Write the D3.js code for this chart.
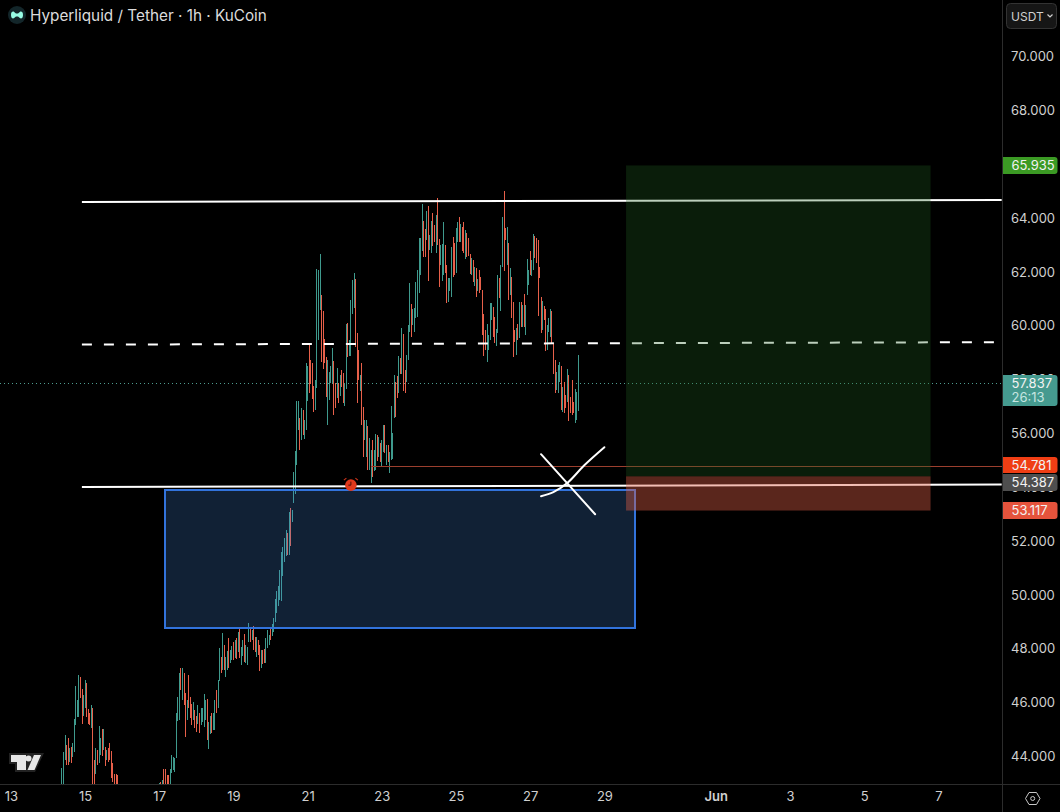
<!DOCTYPE html>
<html>
<head>
<meta charset="utf-8">
<title>Hyperliquid / Tether</title>
<script src="https://cdn.jsdelivr.net/npm/d3@7/dist/d3.min.js"></script>
<style>
  html, body { margin: 0; padding: 0; background: #000; overflow: hidden; }
  svg { display: block; font-family: Inter, "Liberation Sans", sans-serif; }
</style>
</head>
<body>
<svg id="chart" width="1060" height="812"></svg>
<script>
// Hourly candles, one list per calendar day: [high, low, open, close]
const may14 = [[43.55,42.73,42.8,43.3],[44.15,42.9,43.5,44.1],[44.78,43.85,44.0,44.5],[44.4,43.65,44.3,43.9],[44.66,43.65,44.4,43.7],[44.3,43.77,43.9,44.2],[44.33,43.73,44.25,43.8],[44.5,43.96,44.0,44.4],[45.37,44.15,44.4,45.1],[46.6,45.15,45.2,46.5],[46.08,45.45,45.6,46.0],[47.0,45.45,45.7,46.9],[46.93,46.15,46.9,46.2],[46.5,45.2,46.3,45.45],[46.25,45.5,45.55,46.1]];
const may15 = [[46.82,45.8,46.1,46.7],[46.7,45.45,46.6,45.65],[45.75,45.2,45.7,45.3],[45.6,45.15,45.5,45.2],[45.9,45.05,45.2,45.8],[45.78,42.7,45.7,43.2],[43.85,42.7,43.6,42.9],[44.3,43.35,43.5,44.2],[44.22,43.65,44.15,43.75],[45.1,43.75,43.8,44.7],[44.66,44.03,44.1,44.6],[45.0,44.0,44.9,44.2],[45.0,44.22,44.3,44.9],[44.33,43.62,44.3,43.7],[44.22,43.85,43.9,44.15],[44.3,43.77,44.25,43.9],[44.5,43.85,44.4,44.0],[44.18,43.2,44.1,43.4],[43.73,43.05,43.6,43.2],[43.35,42.95,43.3,43.0],[43.35,42.7,43.2,42.8],[43.3,42.7,43.1,42.8]];
const may17 = [[43.0,42.5,42.6,42.9],[43.05,42.6,42.95,42.7],[43.1,42.7,42.75,43.0],[43.51,42.8,43.5,43.0],[43.5,42.7,43.4,42.8],[43.3,42.7,43.2,42.8],[43.3,42.9,43.25,42.95],[43.5,42.9,43.0,43.4],[44.03,43.37,43.4,43.95],[43.96,43.48,43.6,43.9],[43.92,43.4,43.5,43.85],[45.59,43.92,44.0,45.1],[46.2,45.3,45.4,46.1],[47.1,45.33,45.4,46.95],[47.27,46.45,47.2,46.6],[47.27,46.08,46.2,47.1],[47.08,45.9,47.0,46.0],[46.34,44.7,46.2,45.3],[46.08,45.33,45.4,46.0],[47.0,45.78,46.9,45.9],[46.2,45.4,46.1,45.5],[45.95,45.15,45.9,45.3],[46.0,45.33,45.4,45.9],[45.7,45.03,45.65,45.15]];
const may18 = [[45.5,44.9,45.45,45.0],[45.9,45.2,45.3,45.8],[45.6,44.85,45.5,45.0],[45.8,45.15,45.2,45.7],[45.8,45.25,45.4,45.75],[46.3,45.07,45.3,46.2],[46.08,45.33,45.5,46.0],[46.1,44.6,46.0,45.0],[45.26,44.25,44.5,45.2],[45.5,44.8,44.9,45.4],[45.6,44.85,45.5,45.0],[45.6,44.95,45.05,45.5],[46.08,44.95,45.3,46.0],[46.45,45.6,46.4,46.0],[46.82,45.78,45.95,46.75],[48.0,46.8,47.0,47.85],[47.67,47.08,47.6,47.2],[48.56,47.19,47.3,48.4],[48.12,47.19,48.1,47.3],[47.67,46.93,47.2,47.6],[47.9,47.2,47.3,47.8],[48.38,47.27,48.3,47.4],[47.93,47.45,47.5,47.85],[48.1,47.56,47.6,48.0]];
const may19 = [[48.23,47.56,48.1,47.7],[48.3,47.63,47.7,48.25],[48.38,47.6,48.3,47.7],[48.6,47.86,47.9,48.5],[48.75,47.63,48.7,47.75],[48.05,47.37,47.5,48.0],[48.3,47.7,47.8,48.25],[48.53,47.48,48.5,47.6],[48.12,47.45,47.55,48.05],[48.05,47.37,47.9,48.1],[48.94,48.23,48.3,48.85],[48.75,48.23,48.7,48.3],[48.68,48.3,48.35,48.6],[48.83,47.93,48.8,48.0],[48.42,47.86,48.4,47.95],[48.42,47.67,47.8,48.35],[48.3,47.75,48.25,47.85],[48.12,47.15,48.1,47.4],[47.93,47.27,47.4,47.85],[47.95,47.4,47.9,47.5],[47.97,47.45,47.9,47.55],[48.38,47.45,47.6,48.3],[48.68,48.0,48.1,48.6],[48.5,48.12,48.15,48.45]];
const may20 = [[48.75,48.3,48.7,48.35],[48.9,48.45,48.5,48.85],[49.12,48.6,48.7,49.05],[49.83,48.97,49.05,49.75],[50.12,49.3,49.5,50.0],[50.3,49.57,49.7,50.25],[50.9,49.79,49.85,50.8],[51.57,49.75,49.9,51.4],[51.76,50.68,50.8,51.7],[52.1,51.2,51.35,52.0],[52.4,51.42,51.5,52.3],[52.28,51.46,52.2,51.55],[53.06,51.46,51.6,52.9],[53.2,51.8,53.1,51.95],[53.13,52.7,52.75,53.05],[54.55,53.4,53.45,54.45],[55.33,53.73,53.8,55.2],[57.2,54.8,56.1,56.8],[57.2,56.1,56.5,57.1],[56.55,55.36,56.4,55.8],[56.92,55.74,55.9,56.8],[56.85,55.92,56.8,56.1],[56.48,55.77,55.9,56.4],[58.6,56.11,56.3,57.2]];
const may21 = [[58.5,57.2,57.3,58.4],[59.26,57.48,58.7,57.6],[58.7,57.8,58.6,57.9],[58.6,57.26,58.5,57.4],[57.74,56.77,57.7,56.9],[57.96,56.85,57.0,57.85],[62.08,57.67,58.9,59.8],[62.05,59.45,59.5,61.9],[62.65,60.55,60.6,61.9],[61.12,58.63,61.0,59.0],[60.53,58.37,59.8,58.5],[59.49,58.6,59.4,58.7],[58.82,57.33,58.7,57.5],[58.7,56.3,56.9,57.4],[58.26,57.22,57.3,57.9],[58.5,57.85,57.95,58.4],[59.15,57.85,58.0,58.9],[58.67,56.67,58.5,57.0],[57.85,56.92,57.8,57.1],[58.4,57.3,57.4,58.2],[57.85,57.1,57.7,57.2],[58.15,57.37,57.45,58.05],[58.34,57.7,58.3,57.8],[58.22,57.1,58.1,57.4]];
const may22 = [[57.85,57.0,57.2,57.7],[60.04,57.63,57.8,59.6],[60.08,58.82,60.0,59.0],[59.45,58.85,58.9,59.4],[60.94,58.85,59.0,60.7],[61.68,60.42,60.5,61.5],[61.94,60.64,60.8,61.8],[61.72,59.2,61.6,59.5],[59.7,57.1,58.3,57.85],[59.08,57.96,59.0,58.0],[58.15,57.55,57.6,58.1],[58.6,56.3,58.5,57.0],[56.96,55.1,56.9,55.3],[56.48,55.74,55.8,56.4],[56.48,55.1,55.2,56.3],[56.25,54.62,56.2,54.9],[55.8,54.62,54.7,55.7],[55.36,54.14,54.3,55.2],[55.74,54.36,55.6,54.5],[55.36,54.58,54.7,55.3],[55.95,54.62,54.75,55.6],[55.92,54.95,55.8,55.1],[55.85,55.1,55.2,55.8],[55.62,54.92,55.55,55.0]];
const may23 = [[55.74,54.73,54.8,55.6],[56.3,55.3,55.4,56.2],[56.3,55.25,56.2,55.4],[55.55,54.8,54.9,55.45],[55.55,54.92,55.5,55.0],[55.3,54.5,54.6,55.2],[57.0,55.0,55.1,56.6],[56.0,55.05,55.3,55.9],[58.15,56.55,56.7,57.9],[57.9,56.6,57.8,56.8],[58.1,57.3,58.0,57.4],[58.85,57.48,57.6,58.5],[58.78,58.19,58.7,58.25],[59.9,58.19,58.3,59.8],[59.67,57.55,59.6,58.0],[58.34,57.48,58.2,57.6],[58.9,57.9,58.0,58.8],[60.0,58.7,58.8,59.9],[61.57,59.75,60.0,61.3],[60.8,59.56,60.7,59.8],[60.6,60.0,60.05,60.55],[60.64,59.75,59.9,60.6],[61.6,60.27,60.3,61.5],[62.05,60.3,60.4,61.95]];
const may24 = [[63.24,61.2,61.4,62.5],[63.24,61.86,62.0,63.1],[64.5,62.76,62.9,64.0],[63.87,62.53,63.8,62.9],[63.57,62.53,63.5,62.7],[64.24,63.16,63.3,64.1],[64.43,61.64,63.65,62.8],[63.35,62.8,62.85,63.3],[63.87,62.68,62.8,63.7],[64.17,62.94,64.1,63.2],[63.72,63.09,63.7,63.2],[64.09,62.68,62.9,64.0],[64.72,62.98,64.0,63.1],[63.2,61.42,63.1,62.0],[62.98,62.22,62.3,62.9],[63.02,61.64,61.9,62.9],[63.83,61.86,62.1,63.0],[62.98,61.94,62.9,62.1],[62.24,60.82,62.1,61.4],[61.75,60.86,61.0,61.7],[61.75,61.27,61.3,61.7],[62.9,61.05,61.3,62.6],[63.28,61.79,63.1,62.0],[63.05,61.86,63.0,62.1]];
const may25 = [[63.6,61.94,62.1,63.4],[63.83,63.09,63.2,63.7],[64.02,63.09,63.9,63.2],[63.76,63.09,63.2,63.7],[63.65,62.76,63.6,62.9],[63.83,62.68,63.7,62.9],[63.54,62.46,62.8,63.4],[63.42,62.53,63.35,62.6],[63.24,62.57,63.1,62.65],[62.64,61.9,62.6,62.0],[62.5,61.86,61.95,62.4],[62.42,61.6,62.35,61.75],[62.16,61.45,61.6,62.1],[62.12,61.05,62.05,61.2],[61.72,61.27,61.35,61.65],[62.05,61.2,62.0,61.3],[61.8,61.3,61.75,61.35],[61.3,59.63,61.2,60.0],[60.4,58.85,60.3,59.4],[59.82,59.08,59.8,59.2],[60.04,58.63,58.8,59.9],[59.63,59.08,59.15,59.6],[60.82,59.45,59.6,60.7],[60.82,60.19,60.25,60.75]];
const may26 = [[60.67,59.56,60.6,59.7],[60.3,59.34,60.2,59.5],[59.86,59.23,59.3,59.8],[61.86,59.7,60.0,61.7],[61.75,61.0,61.7,61.1],[62.24,60.53,60.9,62.1],[64.02,62.16,62.2,63.0],[65.0,62.0,64.0,63.2],[63.6,63.16,63.55,63.2],[63.65,62.24,62.5,63.5],[63.05,60.94,63.0,61.5],[62.12,61.12,61.3,62.0],[61.8,60.27,61.2,60.4],[60.86,58.82,60.8,59.3],[59.82,59.38,59.8,59.4],[59.9,58.9,59.1,59.8],[60.04,59.45,60.0,59.5],[60.86,59.53,59.7,60.7],[60.86,59.93,60.8,60.0],[60.75,59.93,60.0,60.7],[61.16,59.93,61.1,60.0],[60.75,59.63,59.9,60.6],[62.46,61.12,61.2,62.3],[62.05,61.49,61.5,62.0]];
const may27 = [[62.76,61.86,62.7,62.0],[62.42,61.83,61.9,62.35],[63.39,62.05,62.1,63.3],[63.31,62.5,63.25,62.6],[63.24,62.3,63.2,62.4],[63.16,60.34,63.1,61.0],[62.16,61.75,62.1,61.8],[61.05,59.71,61.0,60.0],[60.9,59.82,60.0,60.85],[60.7,60.19,60.65,60.25],[60.6,59.04,60.5,59.3],[60.0,59.08,59.3,59.9],[60.27,59.75,59.8,60.2],[60.6,59.56,59.7,60.5],[60.53,59.34,60.0,59.35],[59.34,58.19,59.3,59.2],[58.71,57.48,58.6,57.9],[58.26,57.6,57.7,58.2],[58.52,57.48,57.6,58.4],[58.63,57.9,58.0,58.55],[58.48,56.85,58.4,57.2],[57.7,56.77,57.0,57.6],[57.88,56.73,57.8,57.0],[57.4,56.92,57.35,57.0]];
const may28 = [[58.37,57.14,57.25,58.0],[58.15,56.44,58.0,56.9],[57.33,56.73,57.25,56.85],[57.96,56.66,57.9,56.9],[57.15,56.75,57.1,56.8],[57.63,56.37,56.6,57.4],[57.52,56.48,56.6,57.45],[58.9,56.8,57.2,57.837]];

// Which date and hour each list begins at
const dayLists = [[14, 9, may14], [15, 0, may15], [17, 0, may17], [18, 0, may18], [19, 0, may19], [20, 0, may20], [21, 0, may21], [22, 0, may22], [23, 0, may23], [24, 0, may24], [25, 0, may25], [26, 0, may26], [27, 0, may27], [28, 0, may28]];

// Axis labels
const priceTicks = [44, 46, 48, 50, 52, 54, 56, 58, 60, 62, 64, 66, 68, 70];
const dateTicks = [[13, "13"], [15, "15"], [17, "17"], [19, "19"], [21, "21"], [23, "23"], [25, "25"], [27, "27"], [29, "29"], [32, "Jun"], [34, "3"], [36, "5"], [38, "7"]];

// Drawn levels, as [day of May, hour, price]
const resistanceLine = [[14, 22, 64.58], [39, 17, 64.65]];
const midLine = [[14, 22, 59.28], [39, 12, 59.37]];
const supportLine = [[14, 22, 53.99], [39, 17, 54.08]];
const crossStroke = [[27, 7, 55.21], [28, 18, 52.98]];
const crossCurve = [[27, 7, 53.65], [27, 15, 53.8], [27, 24, 54.14], [28, 11, 54.8], [28, 24, 55.47]];

// Price levels
const lastPrice = 57.837;
const alertPrice = 54.781;
const entryPrice = 54.387;
const targetPrice = 65.935;
const stopPrice = 53.117;
const zoneTop = 53.89;
const zoneBottom = 48.75;
const alarmPrice = 54.06;

const utc = (day, hour) => new Date(Date.UTC(2025, 4, day, hour));
const candles = dayLists.flatMap(([day, hour, rows]) =>
  rows.map((r, i) => ({ t: utc(day, hour + i), high: r[0], low: r[1], open: r[2], close: r[3] })));

const x = d3.scaleUtc().domain([utc(15, 0), utc(38, 0)]).range([85, 938.3]);
const y = d3.scaleLinear().domain([44, 70]).range([756, 56]);
const paneRight = 1002, paneBottom = 784;
const teal = "#3f9a8d", red = "#e8604a";

const svg = d3.select("#chart");
svg.append("defs").append("clipPath").attr("id", "pane")
  .append("rect").attr("width", paneRight).attr("height", paneBottom);
const pane = svg.append("g").attr("clip-path", "url(#pane)");

// Last-price guide runs behind the candles
pane.append("line")
  .attr("x1", 0).attr("x2", paneRight)
  .attr("y1", Math.round(y(lastPrice)) + 0.5).attr("y2", Math.round(y(lastPrice)) + 0.5)
  .attr("stroke", "#4f9c90").attr("stroke-dasharray", "1 3");

// Candles are a single pixel column wide at this zoom
const candleG = pane.append("g").attr("shape-rendering", "crispEdges");
candleG.selectAll("rect.wick").data(candles).join("rect").attr("class", "wick")
  .attr("x", d => Math.floor(x(d.t) + 0.1))
  .attr("width", 1)
  .attr("y", d => y(d.high))
  .attr("height", d => y(d.low) - y(d.high))
  .attr("fill", d => d.close >= d.open ? teal : red);

// Trend lines and the alert line
const levelPath = d3.line().x(d => x(utc(d[0], d[1]))).y(d => y(d[2]));
pane.append("line")
  .attr("x1", x(utc(22, 17))).attr("x2", paneRight)
  .attr("y1", Math.round(y(alertPrice)) + 0.5).attr("y2", Math.round(y(alertPrice)) + 0.5)
  .attr("stroke", "#9c3f2e");
[resistanceLine, supportLine].forEach(l =>
  pane.append("path").attr("d", levelPath(l)).attr("fill", "none").attr("stroke", "#fff").attr("stroke-width", 2));
pane.append("path").attr("d", levelPath(midLine)).attr("fill", "none")
  .attr("stroke", "#fff").attr("stroke-width", 2).attr("stroke-dasharray", "10 12");

// Demand zone
const zoneX0 = x(utc(17, 4)), zoneX1 = x(utc(29, 20));
pane.append("rect")
  .attr("x", zoneX0).attr("width", zoneX1 - zoneX0)
  .attr("y", y(zoneTop)).attr("height", y(zoneBottom) - y(zoneTop))
  .attr("fill", "rgba(72,140,220,0.24)")
  .attr("stroke", "#3273dc").attr("stroke-width", 2)
  .attr("shape-rendering", "crispEdges");

// Long position box: profit above the entry, risk below
const posX0 = x(utc(29, 14)), posX1 = x(utc(37, 19));
pane.append("rect")
  .attr("x", posX0).attr("width", posX1 - posX0)
  .attr("y", y(targetPrice)).attr("height", y(entryPrice) - y(targetPrice))
  .attr("fill", "rgba(33,95,33,0.3)");
pane.append("rect")
  .attr("x", posX0).attr("width", posX1 - posX0)
  .attr("y", y(entryPrice)).attr("height", y(stopPrice) - y(entryPrice))
  .attr("fill", "rgba(225,95,70,0.4)");

// Hand-drawn cross over the support line
pane.append("path").attr("d", levelPath(crossStroke)).attr("fill", "none")
  .attr("stroke", "#fff").attr("stroke-width", 2).attr("stroke-linecap", "round");
pane.append("path").attr("d", levelPath.curve(d3.curveCatmullRom)(crossCurve)).attr("fill", "none")
  .attr("stroke", "#fff").attr("stroke-width", 2).attr("stroke-linecap", "round");

// Alarm marker
const alarm = pane.append("g").attr("transform", `translate(${x(utc(22, 4))},${y(alarmPrice)})`);
alarm.append("circle").attr("r", 5.8).attr("fill", "#e0391c");
alarm.append("path").attr("d", "M-7,-5 L-4.5,-7 M7,-5 L4.5,-7").attr("stroke", "#c8331a").attr("stroke-width", 1.2).attr("fill", "none");
alarm.append("path").attr("d", "M0,-3.5 V0 H-2.5").attr("stroke", "#4a1008").attr("stroke-width", 1).attr("fill", "none");

// Axis frame
svg.append("line").attr("x1", paneRight + 0.5).attr("x2", paneRight + 0.5).attr("y1", 0).attr("y2", 812).attr("stroke", "#2c2c2c");
svg.append("line").attr("x1", 0).attr("x2", 1060).attr("y1", paneBottom + 0.5).attr("y2", paneBottom + 0.5).attr("stroke", "#2c2c2c");

// Price axis
const yAxis = svg.append("g").attr("transform", `translate(${paneRight},0)`)
  .call(d3.axisRight(y).tickValues(priceTicks).tickFormat(d3.format(".3f")).tickSize(0).tickPadding(9));
yAxis.select(".domain").remove();
yAxis.selectAll("text").attr("fill", "#d0d0d0").style("font-size", "13px").style("font-family", "Inter, sans-serif").attr("dy", "0.36em");

// Time axis
const xAxis = svg.append("g").attr("transform", `translate(0,${paneBottom})`)
  .call(d3.axisBottom(x).tickValues(dateTicks.map(d => utc(d[0], 0))).tickFormat((d, i) => dateTicks[i][1]).tickSize(0).tickPadding(8));
xAxis.select(".domain").remove();
xAxis.selectAll("text").attr("fill", "#d0d0d0").style("font-size", "13px").style("font-family", "Inter, sans-serif")
  .style("font-weight", (d, i) => dateTicks[i][1] === "Jun" ? 600 : 400);

// Price tags on the axis; the entry tag is pushed down clear of the alert tag
const priceTags = [
  { price: targetPrice, label: "65.935", fill: "#3b9a24", h: 17 },
  { price: lastPrice, label: "57.837", fill: "#459a8f", h: 31, sub: "26:13", offset: 8 },
  { price: alertPrice, label: "54.781", fill: "#f03e14", h: 16 },
  { price: entryPrice, label: "54.387", fill: "#4e4e4e", h: 17, offset: 2.5 },
  { price: stopPrice, label: "53.117", fill: "#e5533c", h: 17 }
];
const tagPath = (top, h) => `M1003,${top}H1054.5a3,3 0 0 1 3,3V${top + h - 3}a3,3 0 0 1 -3,3H1003Z`;
priceTags.forEach(t => {
  const top = Math.round(y(t.price) - (t.offset || 8.5));
  svg.append("path").attr("d", tagPath(top, t.h)).attr("fill", t.fill);
  svg.append("text").attr("x", 1011.5).attr("y", top + 13).attr("fill", "#f2f2f2").attr("font-size", 13).text(t.label);
  if (t.sub) svg.append("text").attr("x", 1011.5).attr("y", top + 27).attr("fill", "#c5e6e1").attr("font-size", 13).text(t.sub);
});

// Currency button
svg.append("rect").attr("x", 1006.5).attr("y", 3.5).attr("width", 50).attr("height", 25).attr("rx", 4)
  .attr("fill", "#161616").attr("stroke", "#333");
svg.append("text").attr("x", 1011).attr("y", 20.5).attr("fill", "#d0d0d0").attr("font-size", 12).text("USDT");
svg.append("path").attr("d", "M1047.5,14.5 L1050,17 L1052.5,14.5").attr("fill", "none").attr("stroke", "#d0d0d0").attr("stroke-width", 1.2);

// Settings gear
svg.append("path").attr("d", "M1025.5,798.5 L1029,792.5 H1036.5 L1040,798.5 L1036.5,804.5 H1029 Z").attr("fill", "none").attr("stroke", "#c8c8c8");
svg.append("circle").attr("cx", 1032.7).attr("cy", 798.5).attr("r", 2).attr("fill", "none").attr("stroke", "#c8c8c8");

// Symbol badge and title
svg.append("circle").attr("cx", 17).attr("cy", 15).attr("r", 9).attr("fill", "#13262a");
svg.append("path").attr("fill", "#97fce4")
  .attr("d", "M11,15 C11,11.5 13,11 14.2,12 C15.5,13.2 15.8,13.6 17,13.6 C18.2,13.6 18.5,13.2 19.8,12 C21,11 23,11.5 23,15 C23,18.5 21,19 19.8,18 C18.5,16.8 18.2,16.4 17,16.4 C15.8,16.4 15.5,16.8 14.2,18 C13,19 11,18.5 11,15 Z");
svg.append("text").attr("x", 30).attr("y", 21).attr("fill", "#dcdcdc").attr("font-size", 15.3).text("Hyperliquid / Tether · 1h · KuCoin");

// Watermark logo
const logo = svg.append("g");
logo.append("path").attr("fill", "#222").attr("d", "M9,753 H44 L35,772 H15 V764 H9 Z");
logo.append("path").attr("fill", "#e6e6e6").attr("d", "M11,755 H26 V770 H17 V762 H11 Z");
logo.append("circle").attr("cx", 28.5).attr("cy", 758.5).attr("r", 3).attr("fill", "#e6e6e6");
logo.append("path").attr("fill", "#e6e6e6").attr("d", "M34,755 H41 L34.5,770 H27.5 Z");
</script>
</body>
</html>
